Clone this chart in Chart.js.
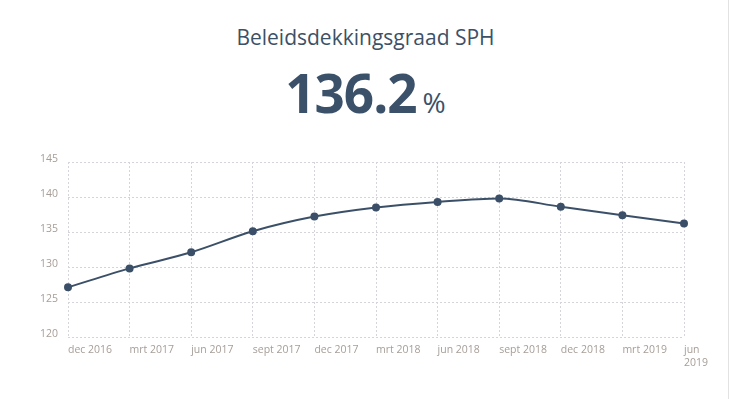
<!DOCTYPE html>
<html lang="nl">
<head>
  <meta charset="UTF-8" />
  <title>Beleidsdekkingsgraad SPH</title>
  <script src="https://cdn.jsdelivr.net/npm/chart.js"></script>
  <style>
    html, body {
      margin: 0;
      padding: 0;
      background: #fff;
    }

    .wrap {
      position: relative;
      width: 731px;
      height: 399px;
      overflow: hidden;
    }

    .wrap:after {
      content: '';
      position: absolute;
      top: 0;
      right: 2px;
      width: 1px;
      height: 100%;
      background: #e2e2e2;
    }

    h1 {
      position: absolute;
      top: 23px;
      left: 0;
      width: 731px;
      margin: 0;
      text-align: center;
      font-family: "Open Sans", sans-serif;
      font-weight: 400;
      font-size: 21px;
      color: #3d5166;
    }

    .big {
      position: absolute;
      top: 56px;
      left: 0;
      width: 731px;
      text-align: center;
      color: #3b5169;
      font-family: "Open Sans", sans-serif;
    }

    .big b {
      font-size: 53px;
      font-weight: 700;
      letter-spacing: -1px;
    }

    .big span {
      font-size: 28px;
      font-weight: 400;
      margin-left: 6px;
    }

    canvas {
      position: absolute;
      top: 0;
      left: 0;
    }
  </style>
</head>
<body>
  <div class="wrap">
    <h1>Beleidsdekkingsgraad SPH</h1>
    <div class="big"><b>136.2</b><span>%</span></div>
    <canvas id="lineChart" width="731" height="399"></canvas>
  </div>

  <script>
    // Data
    const periods = ['dec 2016', 'mrt 2017', 'jun 2017', 'sept 2017', 'dec 2017', 'mrt 2018',
                     'jun 2018', 'sept 2018', 'dec 2018', 'mrt 2019', ['jun', '2019']];
    const dekkingsgraad = [127.1, 129.8, 132.1, 135.1, 137.2, 138.5, 139.3, 139.8, 138.6, 137.4, 136.2];
    const yTicks = [120, 125, 130, 135, 140, 145];

    const gridColor = '#d4d4da';
    const tickColor = '#a69d96';
    const lineColor = '#3b5068';

    new Chart(document.getElementById('lineChart'), {
      type: 'line',
      data: {
        labels: periods,
        datasets: [{
          label: 'Beleidsdekkingsgraad',
          data: dekkingsgraad,
          borderColor: lineColor,
          backgroundColor: lineColor,
          borderWidth: 2,
          cubicInterpolationMode: 'monotone',
          pointRadius: 3,
          pointHoverRadius: 4
        }]
      },
      options: {
        responsive: false,
        animation: false,
        layout: {
          padding: { top: 162, left: 40, right: 47, bottom: 22 }
        },
        plugins: {
          legend: { display: false },
          tooltip: { enabled: false }
        },
        scales: {
          x: {
            grid: {
              color: gridColor,
              drawTicks: false
            },
            // in v4 border.dash also dashes the grid lines
            border: { display: false, dash: [2, 2] },
            ticks: {
              color: tickColor,
              align: 'start',
              maxRotation: 0,
              autoSkip: false,
              padding: 7,
              font: { family: '"Open Sans", sans-serif', size: 10.5 }
            },
            afterFit: scale => { scale.height = 40; }
          },
          y: {
            min: 120,
            max: 145,
            afterBuildTicks: scale => {
              scale.ticks = yTicks.map(v => ({ value: v }));
            },
            grid: {
              color: gridColor,
              drawTicks: false
            },
            border: { display: false, dash: [2, 2] },
            ticks: {
              color: tickColor,
              padding: 10,
              labelOffset: -3,
              font: { family: '"Open Sans", sans-serif', size: 10.5 }
            },
            afterFit: scale => { scale.width = 28; }
          }
        }
      }
    });
  </script>
</body>
</html>
